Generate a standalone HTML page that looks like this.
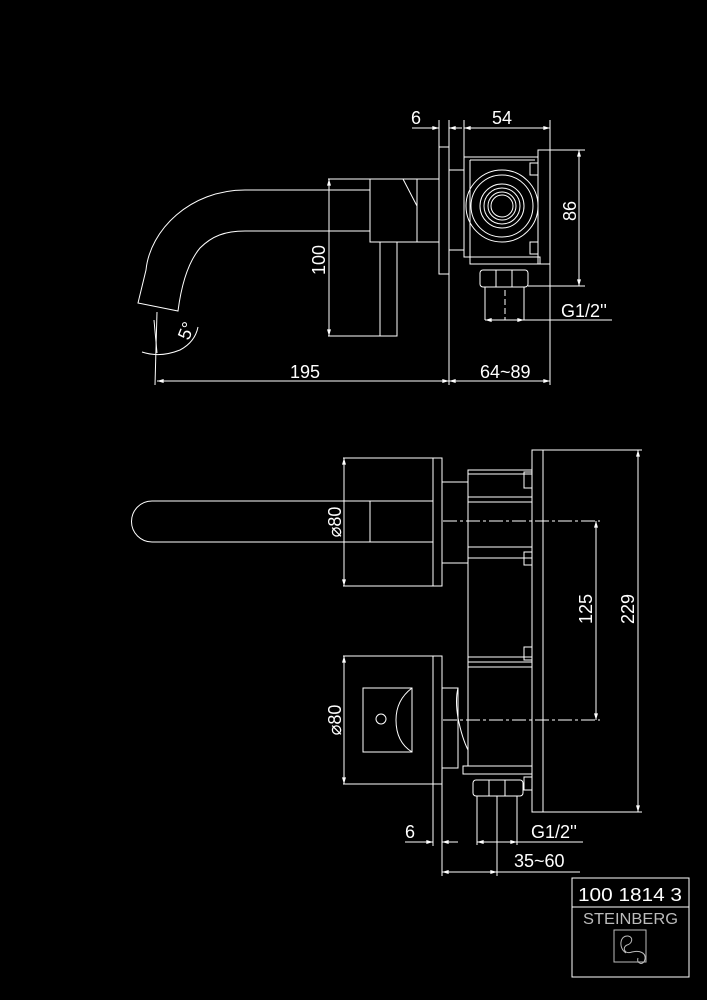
<!DOCTYPE html>
<html><head><meta charset="utf-8"><style>
html,body{margin:0;padding:0;background:#000;}
svg{display:block}
text{font-family:"Liberation Sans",sans-serif;fill:#fff;}
</style></head><body>
<svg width="707" height="1000" viewBox="0 0 707 1000" xmlns="http://www.w3.org/2000/svg">
<defs>
<marker id="a" viewBox="0 0 10 6" refX="10" refY="3" markerWidth="8" markerHeight="4" orient="auto-start-reverse"><path d="M0,0 L10,3 L0,6 z" fill="#fff"/></marker>
</defs>
<g stroke="#fff" stroke-width="1" fill="none">
<path d="M370,190 H245 C190,190 150,230 146,270 L138,303 L178,311 C182,280 190,260 200,248 C212,236 225,231 245,231 H370"/>
<rect x="370" y="179" width="47" height="63"/>
<path d="M403,179 L417,206"/>
<rect x="417" y="179" width="22" height="63"/>
<rect x="380" y="242" width="17" height="94"/>
<rect x="439" y="147" width="10" height="127"/>
<rect x="449" y="170" width="15" height="80"/>
<rect x="464" y="157" width="74" height="100"/>
<line x1="470" y1="160" x2="535" y2="160"/><line x1="470" y1="257" x2="470" y2="160"/>
<rect x="538" y="150" width="12" height="114"/>
<rect x="530" y="163" width="8" height="12"/><rect x="530" y="242" width="8" height="12"/>
<rect x="470" y="257" width="70" height="7"/>
<circle cx="502" cy="206" r="36"/><circle cx="502" cy="206" r="31"/>
<circle cx="502" cy="206" r="22"/><circle cx="502" cy="206" r="18"/><circle cx="502" cy="206" r="14"/><circle cx="502" cy="206" r="11"/>
<rect x="480" y="270" width="48" height="17" rx="3"/>
<line x1="496" y1="270" x2="496" y2="287"/><line x1="512" y1="270" x2="512" y2="287"/>
<line x1="485" y1="287" x2="485" y2="320"/><line x1="524" y1="287" x2="524" y2="320"/>
<line x1="505" y1="290" x2="505" y2="320" stroke-dasharray="6,3"/>
<line x1="439" y1="120" x2="439" y2="147"/><line x1="449" y1="120" x2="449" y2="385"/>
<line x1="464" y1="120" x2="464" y2="157"/><line x1="550" y1="120" x2="550" y2="385"/>
<line x1="412" y1="128" x2="439" y2="128" marker-end="url(#a)"/>
<line x1="449" y1="128" x2="462" y2="128" marker-start="url(#a)"/>
<line x1="464" y1="128" x2="550" y2="128" marker-start="url(#a)" marker-end="url(#a)"/>
<line x1="550" y1="150" x2="585" y2="150"/><line x1="528" y1="286" x2="585" y2="286"/>
<line x1="579" y1="150" x2="579" y2="286" marker-start="url(#a)" marker-end="url(#a)"/>
<line x1="485" y1="320" x2="524" y2="320" marker-start="url(#a)" marker-end="url(#a)"/>
<line x1="524" y1="320" x2="612" y2="320"/>
<line x1="328" y1="179" x2="370" y2="179"/><line x1="328" y1="336" x2="380" y2="336"/>
<line x1="329" y1="179" x2="329" y2="336" marker-start="url(#a)" marker-end="url(#a)"/>
<line x1="157" y1="312" x2="155" y2="385"/>
<line x1="157" y1="381" x2="449" y2="381" marker-start="url(#a)" marker-end="url(#a)"/>
<line x1="449" y1="381" x2="550" y2="381" marker-start="url(#a)" marker-end="url(#a)"/>
<path d="M142,352 Q160,358 180,350 Q195,342 198,327"/>
<line x1="157" y1="353" x2="154" y2="320"/>
<path d="M433,501 H152 A20.5,20.5 0 0 0 152,542 H433"/>
<line x1="370" y1="501" x2="370" y2="542"/>
<rect x="433" y="458" width="9" height="128"/>
<rect x="442" y="482" width="26" height="81"/>
<rect x="468" y="470" width="64" height="296"/>
<line x1="468" y1="474" x2="532" y2="474"/><line x1="468" y1="497" x2="532" y2="497"/><line x1="468" y1="502" x2="532" y2="502"/>
<line x1="468" y1="547" x2="532" y2="547"/><line x1="468" y1="558" x2="532" y2="558"/>
<line x1="468" y1="657" x2="532" y2="657"/><line x1="468" y1="662" x2="532" y2="662"/><line x1="468" y1="667" x2="532" y2="667"/>
<rect x="532" y="450" width="11" height="362"/>
<rect x="524" y="472" width="8" height="16"/><rect x="524" y="552" width="8" height="13"/>
<rect x="524" y="647" width="8" height="13"/><rect x="524" y="777" width="8" height="13"/>
<line x1="443" y1="521" x2="600" y2="521" stroke-dasharray="14,3,3,3"/>
<line x1="343" y1="458" x2="433" y2="458"/><line x1="343" y1="586" x2="433" y2="586"/>
<line x1="344" y1="458" x2="344" y2="586" marker-start="url(#a)" marker-end="url(#a)"/>
<rect x="433" y="656" width="9" height="128"/>
<rect x="363" y="688" width="49" height="64"/>
<path d="M412,688 Q396,700 396,720 Q396,742 412,752"/>
<circle cx="381" cy="719" r="5"/>
<path d="M442,688 H458 V768 H442"/>
<path d="M458,688 Q455,700 458,718 Q462,738 468,750"/>
<line x1="443" y1="720" x2="600" y2="720" stroke-dasharray="14,3,3,3"/>
<rect x="463" y="766" width="69" height="8"/>
<rect x="473" y="780" width="50" height="16" rx="3"/>
<line x1="489" y1="780" x2="489" y2="796"/><line x1="505" y1="780" x2="505" y2="796"/>
<line x1="477" y1="796" x2="477" y2="845"/><line x1="517" y1="796" x2="517" y2="845"/>
<line x1="497" y1="796" x2="497" y2="876"/>
<line x1="343" y1="656" x2="433" y2="656"/><line x1="343" y1="784" x2="433" y2="784"/>
<line x1="344" y1="656" x2="344" y2="784" marker-start="url(#a)" marker-end="url(#a)"/>
<line x1="543" y1="450" x2="642" y2="450"/><line x1="543" y1="812" x2="642" y2="812"/>
<line x1="638" y1="450" x2="638" y2="812" marker-start="url(#a)" marker-end="url(#a)"/>
<line x1="596" y1="521" x2="596" y2="720" marker-start="url(#a)" marker-end="url(#a)"/>
<line x1="433" y1="784" x2="433" y2="846"/><line x1="442" y1="784" x2="442" y2="876"/>
<line x1="405" y1="842" x2="433" y2="842" marker-end="url(#a)"/>
<line x1="442" y1="842" x2="458" y2="842" marker-start="url(#a)"/>
<line x1="477" y1="842" x2="517" y2="842" marker-start="url(#a)" marker-end="url(#a)"/>
<line x1="517" y1="842" x2="583" y2="842"/>
<line x1="442" y1="872" x2="497" y2="872" marker-start="url(#a)" marker-end="url(#a)"/>
<line x1="497" y1="872" x2="580" y2="872"/>
<rect x="572" y="878" width="117" height="99"/>
<line x1="572" y1="907" x2="689" y2="907"/>
<rect x="614" y="930" width="32" height="32" stroke="#bbb"/>
<path d="M626,953 C618,948 620,935 628,936 C634,937 632,944 627,945 C622,947 624,955 632,952 C640,950 646,953 645,959 C644,966 636,964 638,958" stroke="#bbb"/>
</g>
<g font-size="18">
<text x="411" y="124">6</text>
<text x="492" y="124">54</text>
<text x="290" y="378">195</text>
<text x="480" y="378">64~89</text>
<text x="561" y="317">G1/2''</text>
<text transform="translate(576,211) rotate(-90)" text-anchor="middle">86</text>
<text transform="translate(325,260) rotate(-90)" text-anchor="middle">100</text>
<text transform="translate(192,333) rotate(-68)" text-anchor="middle">5°</text>
<text transform="translate(341,522) rotate(-90)" text-anchor="middle">⌀80</text>
<text transform="translate(341,720) rotate(-90)" text-anchor="middle">⌀80</text>
<text transform="translate(592,609) rotate(-90)" text-anchor="middle">125</text>
<text transform="translate(634,609) rotate(-90)" text-anchor="middle">229</text>
<text x="405" y="838">6</text>
<text x="531" y="838">G1/2''</text>
<text x="514" y="867">35~60</text>
<text x="578" y="901" font-size="18" textLength="104" lengthAdjust="spacingAndGlyphs">100 1814 3</text>
<text x="583" y="924" font-size="16" textLength="95" lengthAdjust="spacingAndGlyphs" style="fill:#bbb">STEINBERG</text>
</g>
</svg>
</body></html>
